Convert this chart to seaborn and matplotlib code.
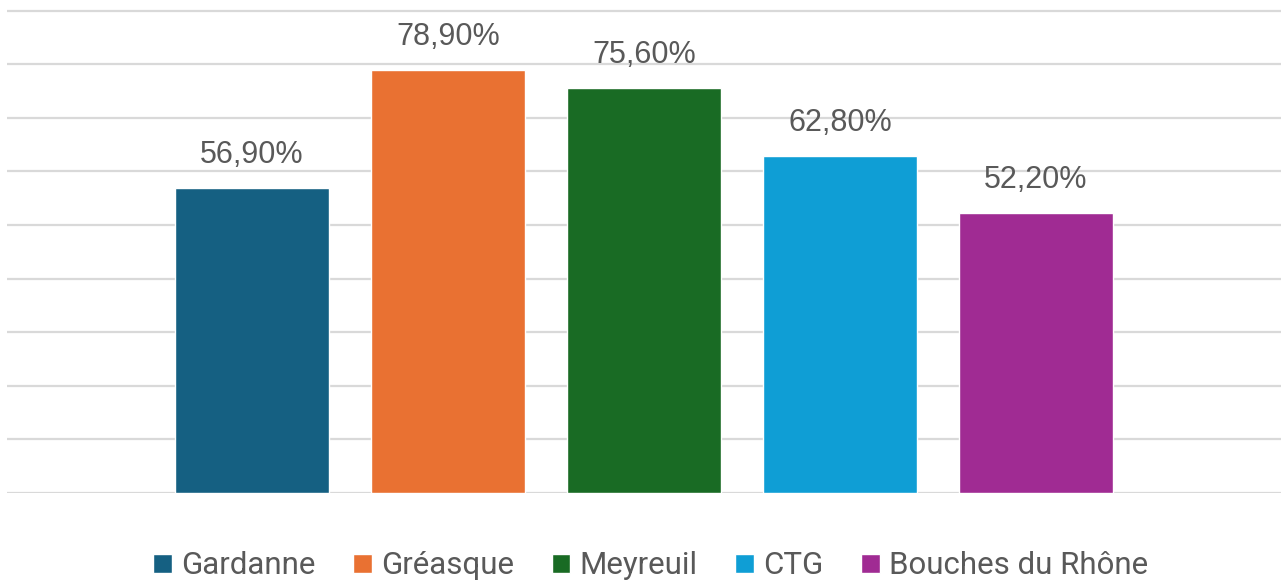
import seaborn as sns
import matplotlib.pyplot as plt
import pandas as pd
from matplotlib.patches import Patch

names = ['Gardanne', 'Gréasque', 'Meyreuil', 'CTG', 'Bouches du Rhône']
values = [56.9, 78.9, 75.6, 62.8, 52.2]
colors = ['#156082', '#E97132', '#196B24', '#0F9ED5', '#A02B93']

df = pd.DataFrame({'zone': names, 'pct': values})

sns.set_theme(style='white')
plt.rcParams['font.family'] = ['Liberation Sans', 'DejaVu Sans']

fig = plt.figure(figsize=(12.81, 5.83), dpi=100)
ax = fig.add_axes([7 / 1281, 90 / 583, 1 - 7 / 1281, 487.8 / 583])

sns.barplot(data=df, x='zone', y='pct', hue='zone', palette=colors,
            width=0.786, dodge=False, legend=False, ax=ax, saturation=1)

ax.set_ylim(0, 91)
ax.set_xlim(-1.25, 5.25)
ax.set_yticks(range(0, 100, 10))
ax.yaxis.grid(True, color='#d9d9d9', linewidth=1.6)
ax.set_axisbelow(True)
ax.set_xticks([])
ax.set_yticklabels([])
ax.tick_params(left=False, bottom=False)
ax.set_xlabel('')
ax.set_ylabel('')
for s in ax.spines.values():
    s.set_visible(False)

for cont in ax.containers:
    ax.bar_label(cont, labels=[f'{v:.2f}%'.replace('.', ',') for v in cont.datavalues],
                 padding=13, fontsize=22, color='#595959')

handles = [Patch(facecolor=c, label=n) for c, n in zip(colors, names)]
fig.legend(handles=handles, loc='center', bbox_to_anchor=(0.508, 17 / 583),
           ncol=5, frameon=False, labelcolor='#595959',
           handlelength=0.6, handleheight=0.6, handletextpad=0.3, columnspacing=1.2,
           prop={'family': ['Roboto', 'DejaVu Sans'], 'size': 22.5})

fig.savefig('out.png', dpi=100)
